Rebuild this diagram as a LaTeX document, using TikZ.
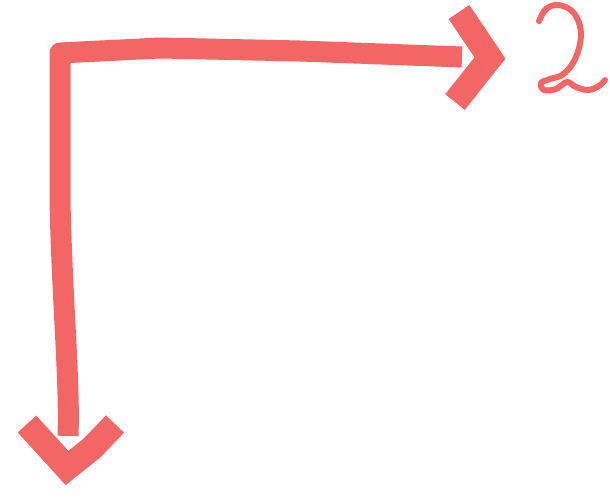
\documentclass[tikz,border=0pt]{standalone}
\definecolor{marker}{RGB}{242,102,102}
\begin{document}
\begin{tikzpicture}[x=1pt,y=-1pt,
  stroke/.style={draw=marker,line width=21pt,line cap=butt,line join=round},
  headstroke/.style={draw=marker,line width=25pt,line cap=butt,line join=miter},
  pen/.style={draw=marker,line width=6pt,line cap=round,line join=round}]
\useasboundingbox (0,0) rectangle (610,500);
\coordinate (bottom) at (68,436);
\coordinate (corner) at (60,53);
\coordinate (right) at (462,57);
\coordinate (dtip) at (67,468);
\coordinate (rtip) at (490,58);
\draw[stroke] (bottom) .. controls (70,380) and (62,300) .. (60,200) -- (corner) -- (160,48) -- (300,51) -- (right);
\draw[headstroke] (27,424) -- (dtip) -- (92,448) -- (115,424);
\draw[headstroke] (459,12) -- (rtip) -- (455,102);
\draw[pen] plot[smooth,tension=0.6] coordinates {(539,21) (546,9) (558,5) (572,11) (580,26) (580,44) (573,63) (562,75) (550,79) (541,83) (544,90) (556,89) (567,82) (576,87) (588,90) (599,86) (605,80)};
\end{tikzpicture}
\end{document}
